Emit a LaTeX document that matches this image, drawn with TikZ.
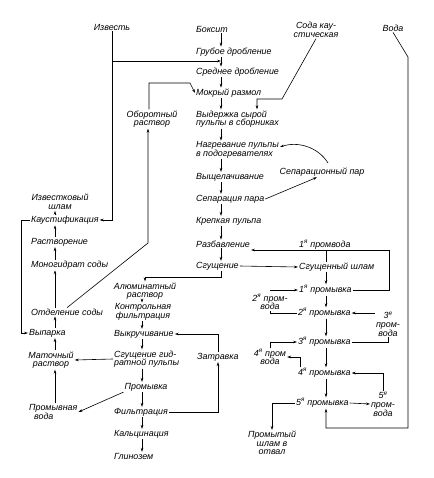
\documentclass[tikz,border=0pt]{standalone}
\usepackage{fontspec}
\setmainfont{Liberation Sans}
\usetikzlibrary{arrows.meta,calc}
\begin{document}
\begin{tikzpicture}[x=1pt,y=-1pt,
  lbl/.style={inner sep=0.8pt,font=\fontsize{8.9}{8.6}\selectfont\itshape},
  lw/.style={lbl,anchor=west,align=left},
  lc/.style={lbl,align=center},
  arr/.style={-{Stealth[length=4pt,width=2.6pt]}},
  every path/.style={line width=0.6pt}]
\useasboundingbox[fill=white] (0,0) rectangle (433,478);
% axes for vertical arrows
\coordinate (cx) at (221,0);
\coordinate (lx) at (142,0);
\coordinate (lcx) at (55,0);
\coordinate (wx) at (326,0);
% central upper column
\node[lw] (boks) at (195,29) {Боксит};
\node[lw] (grub) at (195,52) {Грубое дробление};
\node[lw] (sred) at (195,72) {Среднее дробление};
\node[lw] (mokr) at (195,93) {Мокрый размол};
\node[lw] (vyd) at (195,119) {Выдержка сырой\\пульпы в сборниках};
\node[lw] (nagr) at (195,150) {Нагревание пульпы\\в подогревателях};
\node[lw] (vysh) at (195,177) {Выщелачивание};
\node[lw] (sep) at (195,199) {Сепарация пара};
\node[lw] (krep) at (195,221) {Крепкая пульпа};
\node[lw] (razb) at (195,244) {Разбавление};
\node[lw] (sgu) at (195,266) {Сгущение};
% top inputs
\node[lc] (izv) at (112,27) {Известь};
\node[lc] (soda) at (316,30) {Сода кау-\\стическая};
\node[lc] (voda) at (393,28) {Вода};
\node[lc] (sepp) at (322,172) {Сепарационный пар};
\node[lc] (obor) at (152,119) {Оборотный\\раствор};
% left column
\node[lc] (ishl) at (60,202) {Известковый\\шлам};
\node[lw] (kaus) at (30,220) {Каустификация};
\node[lw] (rast) at (30,242) {Растворение};
\node[lw] (mono) at (30,265) {Моногидрат соды};
\node[lw] (otd) at (30,312) {Отделение соды};
\node[lw] (vyp) at (28,333) {Выпарка};
\node[lc] (mat) at (51,360) {Маточный\\раствор};
\node[lw] (prv) at (28,412) {Промывная\\\hspace*{5pt}вода};
% lower central column
\node[lc] (alum) at (145,291) {Алюминатный\\раствор};
\node[lc] (kontr) at (143,312) {Контрольная\\фильтрация};
\node[lw] (vykr) at (113,334) {Выкручивание};
\node[lw] (sgg) at (113,359) {Сгущение гид-\\ратной пульпы};
\node[lc] (prom) at (146,387) {Промывка};
\node[lw] (filt) at (113,412) {Фильтрация};
\node[lw] (kalc) at (113,434) {Кальцинация};
\node[lw] (glin) at (113,456) {Глинозем};
\node[lw] (zatr) at (196,357) {Затравка};
% washing
\node[lw] (pv1) at (298,245) {1\textsuperscript{я} промвода};
\node[lw] (sshl) at (298,267) {Сгущенный шлам};
\node[lw] (p1) at (298,290) {1\textsuperscript{я} промывка};
\node[lw] (p2) at (297,313) {2\textsuperscript{я} промывка};
\node[lw] (p3) at (297,342) {3\textsuperscript{я} промывка};
\node[lw] (p4) at (297,373) {4\textsuperscript{я} промывка};
\node[lw] (p5) at (295,403) {5\textsuperscript{я} промывка};
\node[lc] (pv2) at (270,302) {2\textsuperscript{я} пром-\\вода};
\node[lc] (pv3) at (388,324) {3\textsuperscript{я}\\пром-\\вода};
\node[lc] (pv4) at (270,357) {4\textsuperscript{я} пром\\вода};
\node[lc] (pv5) at (383,404) {5\textsuperscript{я}\\пром-\\вода};
\node[lc] (otv) at (272,443) {Промытый\\шлам в\\отвал};
% coordinates
\coordinate (ja) at (112,61);
\coordinate (sd1) at (282,99);
\coordinate (sd2) at (257,99);
\coordinate (vd1) at (408,57);
\coordinate (vd2) at (408,428);
\coordinate (vd3) at (326,428);
\coordinate (ob1) at (149,83);
\coordinate (ob2) at (190,83);
\coordinate (ob3) at (148,243);
\coordinate (w1) at (389,250);
\coordinate (al1) at (221,277);
\coordinate (z1) at (218,0);
\coordinate (k1) at (21,0);
\coordinate (cv1) at (328,163);
% central vertical arrows
\foreach \a/\b in {boks/grub,grub/sred,sred/mokr,mokr/vyd,vyd/nagr,nagr/vysh,vysh/sep,sep/krep,krep/razb,razb/sgu}
  \draw[arr] (\a.south -| cx) -- (\b.north -| cx);
\foreach \a/\b in {alum/kontr,kontr/vykr,vykr/sgg,sgg/prom,prom/filt,filt/kalc,kalc/glin}
  \draw[arr] (\a.south -| lx) -- (\b.north -| lx);
\foreach \a/\b in {prv/mat,mat/vyp,vyp/otd,otd/mono,mono/rast,rast/kaus,kaus/ishl}
  \draw[arr] (\a.north -| lcx) -- (\b.south -| lcx);
\foreach \a/\b in {sshl/p1,p1/p2,p2/p3,p3/p4,p4/p5}
  \draw[arr] (\a.south -| wx) -- (\b.north -| wx);
% lime
\draw[arr] (izv.south) |- (kaus.east);
\draw[arr] (ja) -- (ja -| cx);
% caustic soda
\draw[arr] (soda.south) -- (sd1) -- (sd2) -- (vyd.north -| sd2);
% water
\draw[arr] (voda.south) -- (vd1) -- (vd2) -- (vd3) -- (p5.south -| vd3);
% recycle solution
\draw[arr] (obor.north -| ob1) -- (ob1) -- (ob2) -- (mokr.west);
\draw[arr] (otd.north) -- (ob3) -- (obor.south -| ob3);
% steam
\draw[arr] (sep.east) -- ([xshift=-5pt]sepp.south);
\draw[arr] (cv1) .. controls (318,147) and (298,141) .. ([yshift=3pt]nagr.east);
% thickening
\draw[arr] (sgu.east) -- (sshl.west);
\draw[arr] (sgu.south -| cx) -- (al1) -| (alum.north);
\draw[arr] (p1.east) -| (w1) -- (razb.east |- w1);
\draw (w1 -| wx) -- (sshl.north -| wx);
% seed
\draw[arr] (filt.east) -- (filt.east -| z1) -- (zatr.south -| z1);
\draw[arr] (zatr.north -| z1) |- (vykr.east);
% mother liquor, wash water
\draw[arr] (sgg.west) -- (mat.east);
\draw[arr] (prom.south west) -- (prv.east);
\draw[arr] (kaus.west) -- (kaus.west -| k1) |- (vyp.west);
% wash waters
\draw (p2.west) -| (pv2.south);
\draw[arr] (p1.west -| pv2.north) -- (p1.west);
\draw (p3.east) -| (pv3.south);
\draw[arr] (pv3.west |- p2.east) -- (p2.east);
\draw[arr] (pv4.north) |- (p3.west);
\draw[arr] ([xshift=3pt]p4.north west) |- (pv4.east);
\draw[arr] (p5.east) -- (pv5.west);
\draw[arr] (pv5.north) |- (p4.east);
\draw[arr] (p5.west) -| (otv.north);
\end{tikzpicture}
\end{document}
